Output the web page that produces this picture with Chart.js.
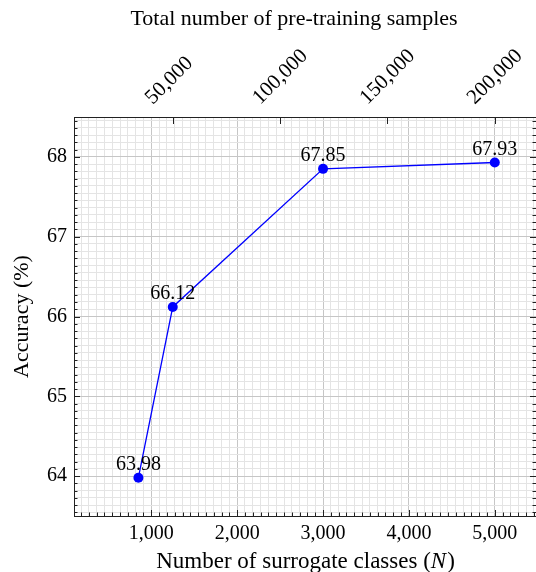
<!DOCTYPE html>
<html><head><meta charset="utf-8">
<script src="https://cdn.jsdelivr.net/npm/chart.js@4/dist/chart.umd.min.js"></script>
<style>html,body{margin:0;padding:0;background:#fff;overflow:hidden}</style>
</head><body>
<canvas id="c" width="536" height="572"></canvas>
<script>
// ---- data ----
const surrogateClasses = [850, 1250, 3000, 5000];
const accuracy = [63.98, 66.12, 67.85, 67.93];
const samplesPerClass = 40;
const xTickValues = [1000, 2000, 3000, 4000, 5000];
const yTickValues = [64, 65, 66, 67, 68];
const topTickValues = [50000, 100000, 150000, 200000];
const xRange = [100, 5480];
const yRange = [63.5, 68.5];
const minorPerMajor = 10;
const xTitleParts = ['Number of surrogate classes (', 'N', ')'];
const topTitle = 'Total number of pre-training samples';

const FONT = 'Liberation Serif, Times New Roman, serif';
const fnt = (s, lh) => ({family: FONT, size: s, lineHeight: lh || 1.2});

function withMinors(majors, range, n) {
  const step = (majors[1] - majors[0]) / (n + 1);
  const out = [];
  const k0 = Math.ceil((range[0] - majors[0]) / step - 1e-9);
  const k1 = Math.floor((range[1] - majors[0]) / step + 1e-9);
  for (let k = k0; k <= k1; k++) out.push(majors[0] + k * step);
  return out;
}
const isMajorIn = (arr) => (v) => arr.some(m => Math.abs(m - v) < 1e-6 * Math.max(1, Math.abs(m)));
const isMajorX = isMajorIn(xTickValues);
const isMajorY = isMajorIn(yTickValues);
const fmt = (v) => Math.round(v).toLocaleString('en-US');

const frame = {
  id: 'frame',
  beforeDatasetsDraw(chart) {
    const {ctx, chartArea: a, scales} = chart;
    ctx.save();
    ctx.strokeStyle = '#222';
    ctx.lineWidth = 1;
    ctx.beginPath();
    const line = (x1, y1, x2, y2) => { ctx.moveTo(x1, y1); ctx.lineTo(x2, y2); };
    scales.x.ticks.forEach(t => {
      const p = Math.round(scales.x.getPixelForValue(t.value)) + 0.5;
      const len = isMajorX(t.value) ? 6 : 3.5;
      line(p, a.bottom, p, a.bottom - len);
    });
    scales.x2.ticks.forEach(t => {
      const p = Math.round(scales.x2.getPixelForValue(t.value)) + 0.5;
      line(p, a.top, p, a.top + 7);
    });
    scales.y.ticks.forEach(t => {
      const p = Math.round(scales.y.getPixelForValue(t.value)) + 0.5;
      const len = isMajorY(t.value) ? 6 : 3.5;
      line(a.left, p, a.left + len, p);
      line(a.right, p, a.right - len, p);
    });
    ctx.stroke();
    ctx.strokeRect(Math.round(a.left) + 0.5, Math.round(a.top) + 0.5,
      Math.round(a.right - a.left), Math.round(a.bottom - a.top));
    ctx.restore();
  }
};

const annotations = {
  id: 'annotations',
  afterDatasetsDraw(chart) {
    const {ctx, chartArea: a} = chart;
    const meta = chart.getDatasetMeta(0);
    ctx.save();
    ctx.fillStyle = '#000';
    ctx.font = '20px ' + FONT;
    ctx.textAlign = 'center';
    ctx.textBaseline = 'alphabetic';
    meta.data.forEach((el, i) => {
      ctx.fillText(accuracy[i].toFixed(2), el.x, el.y - 7.5);
    });
    // top axis title
    ctx.font = '22px ' + FONT;
    ctx.fillText(topTitle, (a.left + a.right) / 2 - 11, 25);
    // bottom axis title with math-italic N
    const fonts = ['23px ' + FONT, 'italic 23px ' + FONT, '23px ' + FONT];
    const widths = xTitleParts.map((t, i) => { ctx.font = fonts[i]; return ctx.measureText(t).width; });
    const total = widths.reduce((s, w) => s + w, 0);
    let x = (a.left + a.right) / 2 - total / 2;
    ctx.textAlign = 'left';
    xTitleParts.forEach((t, i) => { ctx.font = fonts[i]; ctx.fillText(t, x, 568); x += widths[i] + (i === 1 ? 1 : 0); });
    ctx.restore();
  }
};

new Chart(document.getElementById('c'), {
  type: 'line',
  data: {
    datasets: [{
      data: surrogateClasses.map((x, i) => ({x, y: accuracy[i]})),
      borderColor: '#0000ff', backgroundColor: '#0000ff', borderWidth: 1.3,
      pointRadius: 5, pointBorderWidth: 0, pointHoverRadius: 5, tension: 0, clip: false
    }]
  },
  options: {
    responsive: false, devicePixelRatio: 1, animation: false,
    layout: {padding: 0, autoPadding: false},
    plugins: {legend: {display: false}, tooltip: {enabled: false}},
    events: [],
    scales: {
      x: {
        type: 'linear', position: 'bottom', min: xRange[0], max: xRange[1],
        afterBuildTicks: s => { s.ticks = withMinors(xTickValues, xRange, minorPerMajor).map(v => ({value: v})); },
        afterFit: s => { s.height = 56; s.paddingLeft = 0; s.paddingRight = 0; },
        ticks: {autoSkip: false, maxRotation: 0, minRotation: 0, padding: 6, color: '#000', font: fnt(20),
          callback: v => isMajorX(v) ? fmt(v) : ''},
        grid: {drawTicks: false, lineWidth: 1, color: c => isMajorX(c.tick.value) ? '#c6c6c6' : '#e4e4e4'},
        border: {display: false},
        title: {display: false}
      },
      x2: {
        type: 'linear', position: 'top', min: xRange[0] * samplesPerClass, max: xRange[1] * samplesPerClass,
        afterBuildTicks: s => { s.ticks = topTickValues.map(v => ({value: v})); },
        afterFit: s => { s.height = 117; s.paddingLeft = 0; s.paddingRight = 0; },
        ticks: {autoSkip: false, maxRotation: 45, minRotation: 45, padding: 7, labelOffset: -6, color: '#000', font: fnt(21),
          callback: v => fmt(v)},
        grid: {display: false, drawTicks: false},
        border: {display: false},
        title: {display: false}
      },
      y: {
        type: 'linear', position: 'left', min: yRange[0], max: yRange[1],
        afterBuildTicks: s => { s.ticks = withMinors(yTickValues, yRange, minorPerMajor).map(v => ({value: v})); },
        afterFit: s => { s.width = 74; },
        ticks: {autoSkip: false, padding: 7, color: '#000', font: fnt(20),
          callback: v => isMajorY(v) ? String(Math.round(v)) : ''},
        grid: {drawTicks: false, lineWidth: 1, color: c => isMajorY(c.tick.value) ? '#c6c6c6' : '#e4e4e4'},
        border: {display: false},
        title: {display: true, text: 'Accuracy (%)', color: '#000', font: fnt(22), padding: {top: 9, bottom: 0}}
      }
    }
  },
  plugins: [frame, annotations]
});
</script>
</body></html>
